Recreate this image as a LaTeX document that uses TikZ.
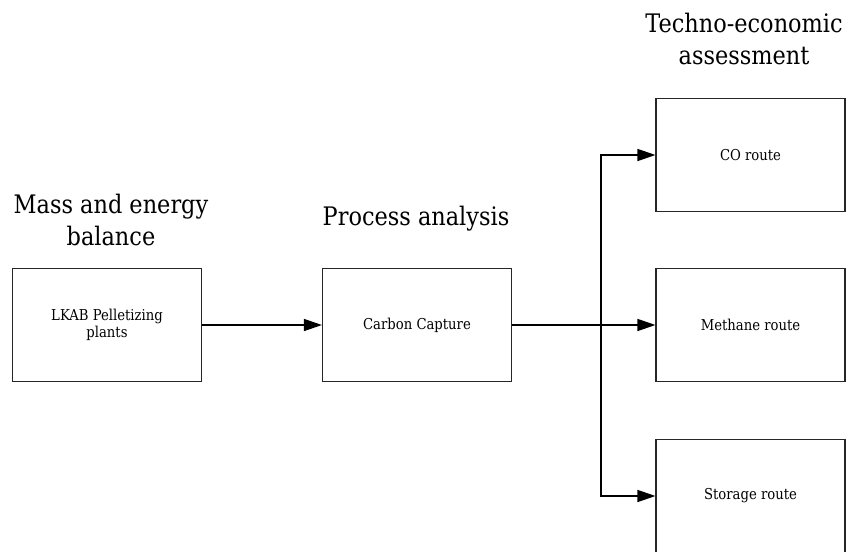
\documentclass[tikz,border=0pt]{standalone}
\usepackage{fontspec}
\setmainfont{DejaVu Serif}[FakeStretch=0.88]
\usetikzlibrary{arrows.meta}
\begin{document}
\begin{tikzpicture}[x=1pt,y=-1pt,
  box/.style={draw=black!85, line width=1.1pt, minimum width=189pt, minimum height=113pt, inner sep=0pt, align=center, font=\fontsize{15}{16.5}\selectfont},
  title/.style={align=center, font=\fontsize{25.5}{32}\selectfont, inner sep=0pt},
  arr/.style={line width=1.4pt, -{Triangle[length=18pt,width=12pt]}}]
\useasboundingbox (0,0) rectangle (850,551);
\clip (0,0) rectangle (850,551);
\node[box] (lkab) at (107,325) {LKAB Pelletizing\\plants};
\node[box] (cc) at (417,325) {Carbon Capture};
\node[box] (co) at (750.5,155) {CO route};
\node[box] (me) at (750.5,325) {Methane route};
\node[box] (st) at (750.5,496) {Storage route};
\node[title, anchor=base] (t1) at (111,245) {Mass and energy\\balance};
\node[title, anchor=base] (t2) at (416,225) {Process analysis};
\node[title, anchor=base] (t3) at (744,64) {Techno-economic\\assessment};
\coordinate (split) at (601,325);
\draw[arr] (lkab.east) -- (cc.west);
\draw[arr] (cc.east) -- (me.west);
\draw[arr] (split) |- (co.west);
\draw[arr] (split) |- (st.west);
\end{tikzpicture}
\end{document}
